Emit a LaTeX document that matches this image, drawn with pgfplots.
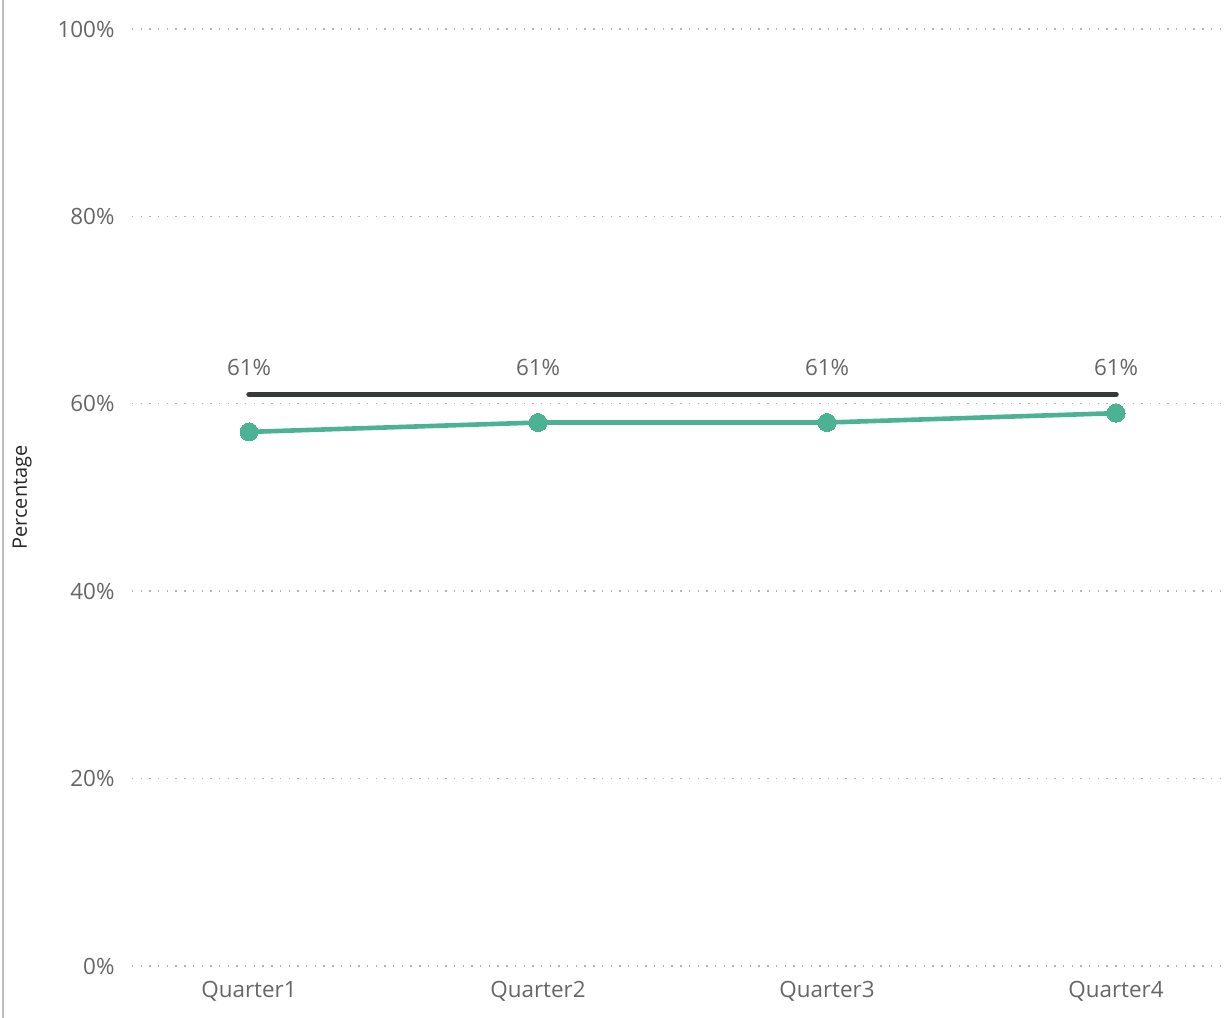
\documentclass[border=0pt]{standalone}
\usepackage{fontspec}
\setmainfont{Open Sans}
\usepackage{pgfplots}
\pgfplotsset{compat=1.18}
\definecolor{lineGreen}{HTML}{4BB394}
\definecolor{lineDark}{HTML}{363A3A}
\definecolor{tickGray}{HTML}{666666}
\definecolor{gridGray}{HTML}{B4B4B4}
\begin{document}
\begin{tikzpicture}
\useasboundingbox (-132bp,-52bp) rectangle (1099bp,966bp);
\draw[color=black!25, line width=1.5bp] (-129bp,-52bp) -- (-129bp,966bp);
\begin{axis}[
  scale only axis, width=1093bp, height=937bp,
  xmin=-0.405, xmax=3.377, ymin=0, ymax=100,
  axis line style={draw=none},
  xtick={0,1,2,3}, xticklabels={Quarter1,Quarter2,Quarter3,Quarter4},
  ytick={0,20,40,60,80,100},
  yticklabel={\pgfmathprintnumber[assume math mode=true]{\tick}\%},
  ymajorgrids,
  grid style={gridGray, line width=1.4bp, dash pattern=on 1.4bp off 7.3bp},
  major tick length=0pt,
  tick label style={font=\fontsize{22.5}{27}\selectfont, text=tickGray},
  yticklabel style={xshift=-14bp},
  xticklabel style={yshift=-12bp},
  every axis y label/.style={at={(axis description cs:-0.1006,0.5)}, rotate=90, anchor=center},
  ylabel={Percentage},
  ylabel style={font=\fontsize{20}{24}\selectfont, text=black!85},
  clip=false,
]
\addplot[lineGreen, line width=4.6bp, mark=*, mark size=9bp, mark options={fill=lineGreen, draw=lineGreen, line width=0pt}]
  coordinates {(0,57) (1,58) (2,58) (3,59)};
\addplot[lineDark, line width=5.5bp, line cap=round,
  nodes near coords={\pgfmathprintnumber[assume math mode=true]{\pgfplotspointmeta}\%},
  every node near coord/.style={anchor=south, font=\fontsize{22.5}{27}\selectfont, text=tickGray, yshift=13bp}]
  coordinates {(0,61) (1,61) (2,61) (3,61)};
\end{axis}
\end{tikzpicture}
\end{document}
